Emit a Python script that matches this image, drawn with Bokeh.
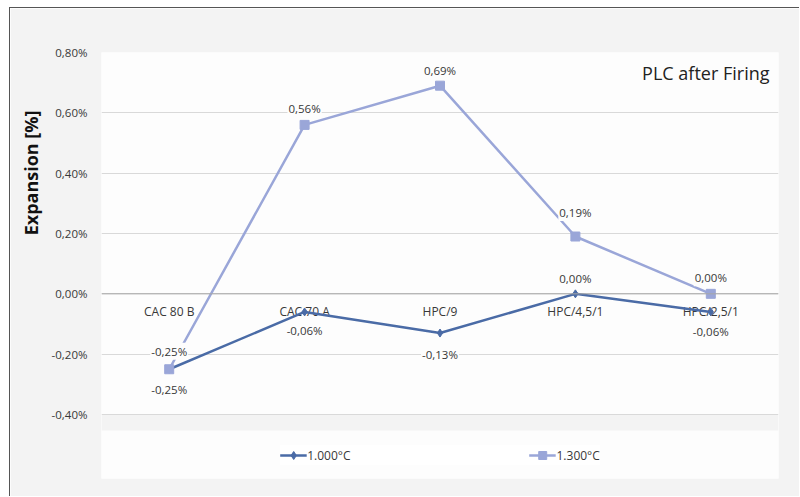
import math
from bokeh.plotting import figure
from bokeh.models import (ColumnDataSource, FixedTicker, Legend, LegendItem, Label, Title,
                          BoxAnnotation, Range1d, FactorRange, Span)
from bokeh.core.properties import value
from bokeh.embed import file_html
from bokeh.resources import INLINE

# ---- data ----
categories = ["CAC 80 B", "CAC 70 A", "HPC/9", "HPC/4,5/1", "HPC/2,5/1"]
series_1000 = [-0.25, -0.06, -0.13, 0.00, -0.06]
series_1300 = [-0.25, 0.56, 0.69, 0.19, 0.00]
series_names = ["1.000°C", "1.300°C"]
y_ticks = [-0.4, -0.2, 0.0, 0.2, 0.4, 0.6, 0.8]
y_tick_labels = ["-0,40%", "-0,20%", "0,00%", "0,20%", "0,40%", "0,60%", "0,80%"]
chart_title = "PLC after Firing"
y_title = "Expansion [%]"

# ---- style ----
C1000 = "#4a6ba6"
C1300 = "#9aa6d8"
TXT = "#383838"
FONT = "Open Sans"
off_1000 = [20, 19, 21, -15, 20]     # px, positive = below the point
off_1300 = [-18, -16, -15, -24, -16]

Y_TOP = 0.8
PX_PER_UNIT = 301.67                 # pixels per 1 % on the y axis
FRAME_TOP, FRAME_H = 52, 426         # frame also holds the legend strip
Y_BOTTOM = Y_TOP - FRAME_H / PX_PER_UNIT


def px2y(py):
    """page pixel row -> y data value"""
    return Y_TOP - (py - FRAME_TOP) / PX_PER_UNIT


def fmt(v):
    return f"{v:.2f}".replace(".", ",") + "%"


p = figure(width=790, height=489,
           x_range=FactorRange(factors=categories),
           y_range=Range1d(Y_BOTTOM, Y_TOP),
           output_backend="svg", toolbar_location=None,
           min_border_left=90, min_border_right=22,
           min_border_top=44, min_border_bottom=19,
           styles={"margin-left": "9px", "margin-top": "7px",
                   "border-left": "1px solid #555555", "border-top": "1px solid #555555"})
p.border_fill_color = "#f3f3f3"
p.background_fill_color = "#fdfdfd"
p.outline_line_color = None

p.xaxis.visible = False
p.xgrid.grid_line_color = None
p.ygrid.grid_line_color = "#d9d9d9"
p.ygrid.ticker = FixedTicker(ticks=y_ticks)

yax = p.yaxis[0]
yax.ticker = FixedTicker(ticks=y_ticks)
yax.major_label_overrides = {t: s for t, s in zip(y_ticks, y_tick_labels)}
yax.axis_line_color = None
yax.major_tick_line_color = None
yax.minor_tick_line_color = None
yax.major_label_standoff = 8
yax.major_label_text_font = FONT
yax.major_label_text_font_size = "11.5px"
yax.major_label_text_color = TXT

p.add_layout(Title(text=y_title, align="right", offset=58, standoff=12,
                   text_font=FONT, text_font_size="18px", text_font_style="bold",
                   text_color="#111111"), "left")

# grey gap between plot area and legend box
p.add_layout(BoxAnnotation(top=px2y(414.6), bottom=px2y(430), fill_color="#f3f3f3",
                           fill_alpha=1, line_color=None, level="underlay"))

p.add_layout(Span(location=0, dimension="width", line_color="#a6a6a6", line_width=1))

# category labels at the zero line
cat_src = ColumnDataSource(dict(x=categories, y=[0] * len(categories), t=categories))
p.text(x="x", y="y", text="t", source=cat_src, text_align="center", text_baseline="middle",
       y_offset=18, text_font=value(FONT), text_font_size="12px", text_color=TXT)

# series
l1 = p.line(categories, series_1000, line_color=C1000, line_width=2.5)
s1 = p.scatter(categories, series_1000, marker="diamond", size=8, color=C1000)
l2 = p.line(categories, series_1300, line_color=C1300, line_width=2.5)
s2 = p.scatter(categories, series_1300, marker="square", size=9, color=C1300)

# data labels
for vals, offs in ((series_1000, off_1000), (series_1300, off_1300)):
    src = ColumnDataSource(dict(x=categories, y=vals, t=[fmt(v) for v in vals], o=offs))
    p.text(x="x", y="y", text="t", y_offset="o", source=src, text_align="center",
           text_baseline="middle", text_font=value(FONT), text_font_size="11.5px",
           text_color=TXT, background_fill_color="#fdfdfd", padding=1)

legend = Legend(items=[LegendItem(label=series_names[0], renderers=[l1, s1]),
                       LegendItem(label=series_names[1], renderers=[l2, s2])],
                orientation="horizontal", location="bottom_center",
                background_fill_color="#ffffff", background_fill_alpha=1,
                border_line_color=None,
                label_text_font=FONT, label_text_font_size="12px", label_text_color=TXT,
                glyph_width=27, glyph_height=20, label_height=20,
                spacing=178, padding=0, margin=13, label_standoff=1)
p.add_layout(legend)

# chart title
p.add_layout(Label(x=668, y=px2y(72), x_units="screen", y_units="data", text=chart_title,
                   text_align="right", text_baseline="middle", text_font=FONT,
                   text_font_size="18px", text_color="#222222"))

open("out.html", "w").write(file_html(p, INLINE))
